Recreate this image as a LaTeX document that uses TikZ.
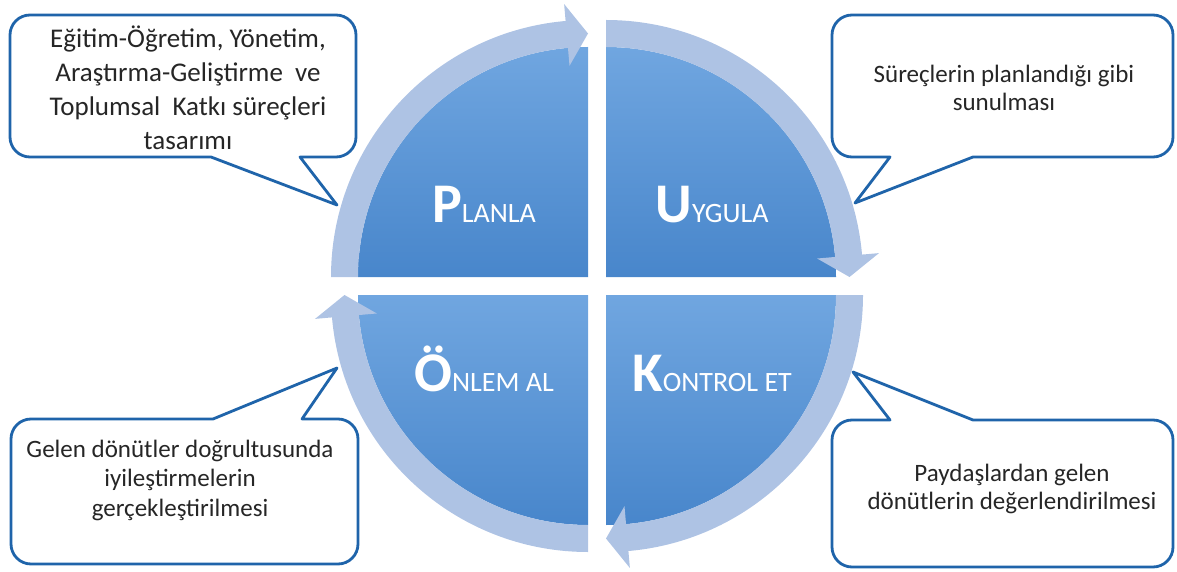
\documentclass[tikz,border=0pt]{standalone}
\usepackage{fontspec}
\setmainfont{Carlito}
\usetikzlibrary{calc}
\definecolor{quadtop}{RGB}{112,166,224}
\definecolor{quadbot}{RGB}{72,134,203}
\definecolor{bandc}{RGB}{174,195,228}
\definecolor{callb}{RGB}{31,100,170}
\definecolor{txtc}{RGB}{38,38,38}
\newcommand\bandarrow[4]{%
  \fill[band] ($(#1)+(#2:257)$) arc[start angle=#2,end angle=#3,radius=257]
    -- ($(#1)+(#3:274)$) -- ($(#1)+(#4:243.5)$) -- ($(#1)+(#3:212)$)
    -- ($(#1)+(#3:230)$) arc[start angle=#3,end angle=#2,radius=230] -- cycle;}
\newcommand\biglbl[2]{{\fontsize{56}{56}\selectfont\bfseries #1}{\fontsize{28}{28}\selectfont #2}}
\begin{document}
\begin{tikzpicture}[x=1pt,y=1pt,
  quad/.style={top color=quadtop,bottom color=quadbot,draw=none},
  band/.style={fill=bandc,draw=none},
  callout/.style={draw=callb,line width=2.8pt,fill=white,line join=round},
  lbl/.style={text=white,inner sep=0pt,anchor=base},
  ctext/.style={text=txtc,inner sep=0pt,anchor=base}]
\useasboundingbox (0,0) rectangle (1177,571);
\coordinate (cUL) at (588,294);
\coordinate (cUR) at (606,294);
\coordinate (cLL) at (588,276);
\coordinate (cLR) at (606,276);
% quadrants
\path[quad] (cUL) -- ++(-230,0) arc[start angle=180,end angle=90,radius=230] -- cycle;
\path[quad] (cUR) -- ++(0,230) arc[start angle=90,end angle=0,radius=230] -- cycle;
\path[quad] (cLR) -- ++(230,0) arc[start angle=0,end angle=-90,radius=230] -- cycle;
\path[quad] (cLL) -- ++(0,-230) arc[start angle=270,end angle=180,radius=230] -- cycle;
% circular arrows
\bandarrow{cUL}{180}{95}{90}
\bandarrow{cUR}{90}{5}{0}
\bandarrow{cLR}{0}{-85}{-90}
\bandarrow{cLL}{-90}{-175}{-180}
% labels
\node[lbl] (pl) at (484,348) {\biglbl{P}{LANLA}};
\node[lbl] (uy) at (712,348) {\biglbl{U}{YGULA}};
\node[lbl] (on) at (484,180) {\biglbl{Ö}{NLEM AL}};
\node[lbl] (ko) at (712,180) {\biglbl{K}{ONTROL ET}};
% callouts
\coordinate (tipUL) at (337,366);
\coordinate (tipUR) at (855,368);
\coordinate (tipLL) at (337,203);
\coordinate (tipLR) at (853,199);
\draw[callout] (30,556) -- (336,556) arc[start angle=90,end angle=0,radius=20] -- (356,434)
  arc[start angle=0,end angle=-90,radius=20] -- (300,414) -- (tipUL) -- (211,414) -- (30,414)
  arc[start angle=270,end angle=180,radius=20] -- (10,536) arc[start angle=180,end angle=90,radius=20] -- cycle;
\draw[callout] (852,556) -- (1153,556) arc[start angle=90,end angle=0,radius=20] -- (1173,434)
  arc[start angle=0,end angle=-90,radius=20] -- (973,414) -- (tipUR) -- (890,414) -- (852,414)
  arc[start angle=270,end angle=180,radius=20] -- (832,536) arc[start angle=180,end angle=90,radius=20] -- cycle;
\draw[callout] (31,152) -- (213,152) -- (tipLL) -- (302,152) -- (338,152)
  arc[start angle=90,end angle=0,radius=20] -- (358,27) arc[start angle=0,end angle=-90,radius=20] -- (31,7)
  arc[start angle=270,end angle=180,radius=20] -- (11,132) arc[start angle=180,end angle=90,radius=20] -- cycle;
\draw[callout] (852,151) -- (890,151) -- (tipLR) -- (973,151) -- (1153,151)
  arc[start angle=90,end angle=0,radius=20] -- (1173,24) arc[start angle=0,end angle=-90,radius=20] -- (852,4)
  arc[start angle=270,end angle=180,radius=20] -- (832,131) arc[start angle=180,end angle=90,radius=20] -- cycle;
% callout texts
\node[ctext,font=\fontsize{27}{34}\selectfont] (tUL) at (188,523)
  {\begin{tabular}[t]{@{}c@{}}Eğitim-Öğretim, Yönetim,\\Araştırma-Geliştirme\ \ ve\\Toplumsal\ \ Katkı süreçleri\\tasarımı\end{tabular}};
\node[ctext,font=\fontsize{25}{28}\selectfont] (tUR) at (1004,488)
  {\begin{tabular}[t]{@{}c@{}}Süreçlerin planlandığı gibi\\sunulması\end{tabular}};
\node[ctext,font=\fontsize{25}{29.5}\selectfont] (tLL) at (180,114)
  {\begin{tabular}[t]{@{}c@{}}Gelen dönütler doğrultusunda\\iyileştirmelerin\\gerçekleştirilmesi\end{tabular}};
\node[ctext,font=\fontsize{25}{28}\selectfont] (tLR) at (1012,90)
  {\begin{tabular}[t]{@{}c@{}}Paydaşlardan gelen\\dönütlerin değerlendirilmesi\end{tabular}};
\end{tikzpicture}
\end{document}
